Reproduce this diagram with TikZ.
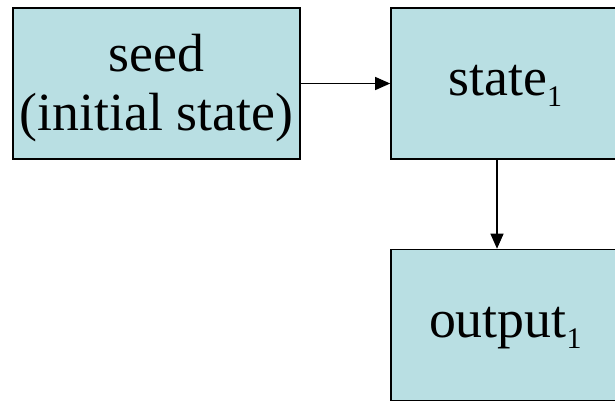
\documentclass[tikz,border=0pt]{standalone}
\usepackage{fontspec}
\setmainfont{Liberation Serif}
\usetikzlibrary{arrows.meta}
\definecolor{boxfill}{RGB}{185,223,227}
\begin{document}
\begin{tikzpicture}[x=1bp,y=-1bp,
  boxnode/.style={draw=black, line width=1.6bp, fill=boxfill, minimum width=287bp, minimum height=151bp, inner sep=0pt, align=center, font=\fontsize{54}{60}\selectfont},
  wide/.style={minimum width=229bp},
  conn/.style={line width=1.2bp, -{Triangle[length=15bp,width=13bp]}}]
\useasboundingbox (0,0) rectangle (615,401);
\begin{scope}
\clip (0,0) rectangle (615,401);
\node[boxnode] (seed) at (156.5,83.5) {};
\node at (156.5,88) [align=center, font=\fontsize{54}{60}\selectfont] (seedtext) {seed\\(initial state)};
\node[boxnode, wide] (state) at (505.5,83.5) {};
\node at (505.5,86) [font=\fontsize{54}{60}\selectfont] (statetext) {state$_{\mbox{\fontsize{30}{30}\selectfont 1}}$};
\node[boxnode, wide] (out) at (505.5,325) {};
\node at (505.5,328) [font=\fontsize{54}{60}\selectfont] (outtext) {output$_{\mbox{\fontsize{30}{30}\selectfont 1}}$};
\end{scope}
\draw[conn] (seed.east) -- (state.west);
\draw[conn] (state.south -| 497,0) -- (out.north -| 497,0);
\end{tikzpicture}
\end{document}
